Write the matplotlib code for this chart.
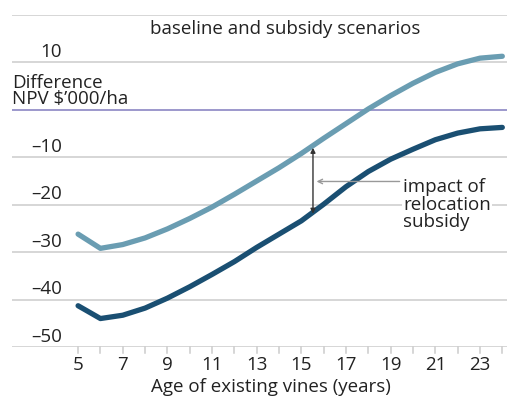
import matplotlib
matplotlib.use("Agg")
import matplotlib.pyplot as plt

plt.rcParams['font.family'] = ['Open Sans', 'DejaVu Sans']

# age of existing vines (years)
years = list(range(5, 25))
# difference in NPV, $'000/ha
baseline = [-41.3, -44.0, -43.3, -41.8, -39.7, -37.3, -34.7, -32.0, -29.0, -26.2,
            -23.4, -19.9, -16.2, -13.0, -10.4, -8.3, -6.3, -4.9, -4.0, -3.7]
subsidy = [-26.2, -29.2, -28.4, -27.0, -25.1, -22.9, -20.5, -17.8, -15.0, -12.2,
           -9.2, -6.0, -2.9, 0.2, 3.0, 5.6, 7.9, 9.7, 10.9, 11.3]
ytick_vals = [20, 10, -10, -20, -30, -40, -50]
ytick_labels = ['', '10', '\u201310', '\u201320', '\u201330', '\u201340', '\u201350']
xtick_labels = [5, 7, 9, 11, 13, 15, 17, 19, 21, 23]

LIGHT = '#6a9db2'
DARK = '#1a4f72'
PURPLE = '#9490c8'
GRID = '#cccccc'
TXT = '#222222'
FS = 13.5

fig = plt.figure(figsize=(5.07, 4.04), dpi=100)
ax = fig.add_axes([12 / 507, 1 - 347 / 404, 1 - 12 / 507, (347 - 15) / 404])
ax.set_xlim(2.04, 24.21)
ax.set_ylim(-50, 20)
for s in ax.spines.values():
    s.set_visible(False)
ax.set_xticks([])
ax.set_yticks([])

# horizontal grid lines and y labels
for v, lab in zip(ytick_vals, ytick_labels):
    ax.axhline(v, color=GRID, lw=1.1, zorder=1)
    if lab:
        ax.text(4.28, v + 0.3, lab, ha='right', va='bottom', fontsize=FS, color=TXT)
ax.axhline(0, color=PURPLE, lw=1.3, zorder=1)

# x ticks below the bottom line
for yr in years:
    ax.plot([yr, yr], [-50, -51.3], color=GRID, lw=1.1, clip_on=False)
for yr in xtick_labels:
    ax.text(yr, -51.8, str(yr), ha='center', va='top', fontsize=FS, color=TXT)
ax.text(13.64, -56.6, 'Age of existing vines (years)', ha='center', va='top',
        fontsize=FS, color=TXT)

ax.plot(years, subsidy, color=LIGHT, lw=3.8, solid_capstyle='round', zorder=3)
ax.plot(years, baseline, color=DARK, lw=3.8, solid_capstyle='round', zorder=3)

# impact of subsidy
ax.annotate('', xy=(15.52, -8.0), xytext=(15.52, -21.9),
            arrowprops=dict(arrowstyle='<|-|>', color='#333333', lw=1,
                            mutation_scale=7, shrinkA=0, shrinkB=0), zorder=4)
ax.annotate('', xy=(15.68, -15.1), xytext=(19.4, -15.1),
            arrowprops=dict(arrowstyle='->', color='#999999', lw=1,
                            mutation_scale=8, shrinkA=0, shrinkB=0), zorder=4)
ax.text(19.55, -20.0, 'impact of\nrelocation\nsubsidy', ha='left', va='center',
        fontsize=FS, color=TXT, linespacing=0.95,
        bbox=dict(facecolor='white', edgecolor='none', pad=1), zorder=4)

fig.text(285 / 507, 1 - 29 / 404, 'baseline and subsidy scenarios', ha='center',
         va='center', fontsize=FS, color=TXT)
fig.text(12 / 507, 1 - 91 / 404, 'Difference\nNPV $\u2019000/ha', ha='left',
         va='center', fontsize=FS, color=TXT, linespacing=0.85)

fig.savefig('out.png', dpi=100)
